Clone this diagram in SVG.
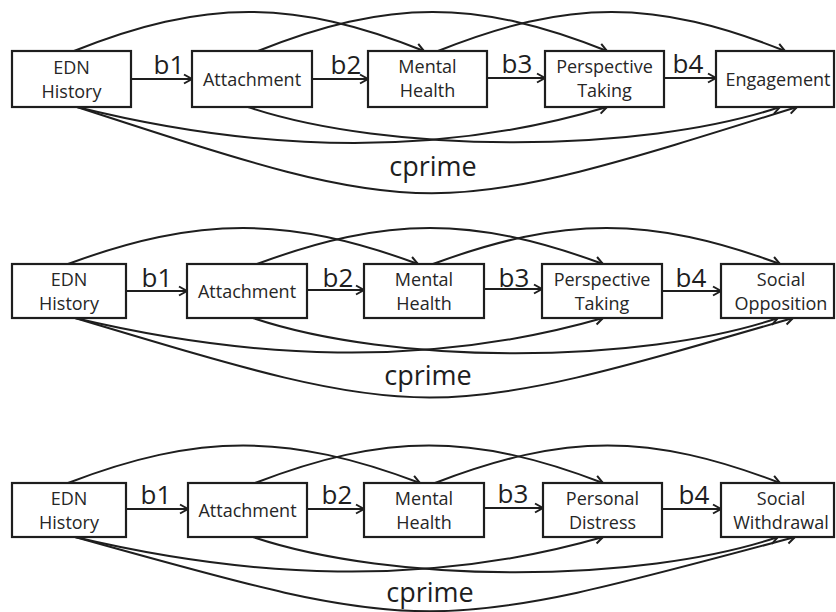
<svg xmlns="http://www.w3.org/2000/svg" width="836" height="612" viewBox="0 0 836 612">
  <defs>
    <marker id="arrow" markerUnits="userSpaceOnUse" markerWidth="12" markerHeight="12" refX="9" refY="5" orient="auto" overflow="visible">
      <path d="M1,0.5 L9,5 L1,9.5" fill="none" stroke="#1e1e1e" stroke-width="2" stroke-linejoin="miter"/>
    </marker>
  </defs>
  <style>
    .box { fill: #ffffff; stroke: #1e1e1e; stroke-width: 2.2; }
    .node { font-family: "Open Sans", "Liberation Sans", sans-serif; font-size: 18px; fill: #262626; text-anchor: middle; }
    .edge { fill: none; stroke: #1e1e1e; stroke-width: 2; marker-end: url(#arrow); }
    .coef { font-family: "Open Sans", "Liberation Sans", sans-serif; font-size: 26px; fill: #1e1e1e; text-anchor: middle; }
    .cp { font-family: "Open Sans", "Liberation Sans", sans-serif; font-size: 27px; fill: #1e1e1e; text-anchor: middle; }
  </style>
  <rect width="836" height="612" fill="#ffffff"/>

  <!-- connectors: model 1 (Engagement) -->
  <g id="connectors-1">
    <path class="edge" d="M74,51 C204,-1 294,-1 424,51"/>
    <path class="edge" d="M258,51 C388,-1 477,-1 607,51"/>
    <path class="edge" d="M438,51 C568,-1 655,-1 785,51"/>
    <path class="edge" d="M77,107 C250,150 430,160 607,107"/>
    <path class="edge" d="M248,107 C388,154 640,154 780,107"/>
    <path class="edge" d="M77,107 C430,222 430,222 797,107"/>
    <path class="edge" d="M131,79 H192"/>
    <path class="edge" d="M312,79 H368"/>
    <path class="edge" d="M487,78 H545"/>
    <path class="edge" d="M664,78 H716"/>
  </g>

  <!-- connectors: model 2 (Social Opposition) -->
  <g id="connectors-2">
    <path class="edge" d="M68,264 C198,216 288,216 418,264"/>
    <path class="edge" d="M257,264 C387,216 473,216 603,264"/>
    <path class="edge" d="M433,264 C563,216 650,216 780,264"/>
    <path class="edge" d="M75,318 C248,359 426,369 603,318"/>
    <path class="edge" d="M253,318 C393,365 638,365 778,318"/>
    <path class="edge" d="M75,318 C428,424 428,424 793,318"/>
    <path class="edge" d="M126,291 H187"/>
    <path class="edge" d="M307,290 H364"/>
    <path class="edge" d="M484,289 H542"/>
    <path class="edge" d="M662,291 H721"/>
  </g>

  <!-- connectors: model 3 (Social Withdrawal) -->
  <g id="connectors-3">
    <path class="edge" d="M68,483 C198,433 288,433 420,483"/>
    <path class="edge" d="M255,483 C385,433 473,433 603,483"/>
    <path class="edge" d="M435,483 C565,433 650,433 780,483"/>
    <path class="edge" d="M75,537 C248,578 426,588 603,537"/>
    <path class="edge" d="M253,537 C393,584 638,584 778,537"/>
    <path class="edge" d="M75,537 C428,636 428,636 795,537"/>
    <path class="edge" d="M126,509 H188"/>
    <path class="edge" d="M307,509 H364"/>
    <path class="edge" d="M484,508 H543"/>
    <path class="edge" d="M662,509 H721"/>
  </g>

  <!-- path coefficient labels -->
  <g id="labels">
    <text class="coef" x="169" y="74">b1</text>
    <text class="coef" x="346" y="74">b2</text>
    <text class="coef" x="517" y="73">b3</text>
    <text class="coef" x="688" y="73">b4</text>
    <text class="cp" x="433" y="176">cprime</text>

    <text class="coef" x="157" y="287">b1</text>
    <text class="coef" x="338" y="287">b2</text>
    <text class="coef" x="514" y="287">b3</text>
    <text class="coef" x="691" y="287">b4</text>
    <text class="cp" x="428" y="385">cprime</text>

    <text class="coef" x="156" y="504">b1</text>
    <text class="coef" x="337" y="504">b2</text>
    <text class="coef" x="513" y="503">b3</text>
    <text class="coef" x="694" y="504">b4</text>
    <text class="cp" x="430" y="602">cprime</text>
  </g>

  <!-- model 1 nodes -->
  <g id="m1-edn-history">
    <rect class="box" x="12" y="51" width="119" height="56"/>
    <text class="node" x="71.5" y="74">EDN</text>
    <text class="node" x="71.5" y="98">History</text>
  </g>
  <g id="m1-attachment">
    <rect class="box" x="192" y="51" width="120" height="56"/>
    <text class="node" x="252" y="86">Attachment</text>
  </g>
  <g id="m1-mental-health">
    <rect class="box" x="368" y="51" width="119" height="56"/>
    <text class="node" x="427.5" y="73">Mental</text>
    <text class="node" x="427.5" y="97">Health</text>
  </g>
  <g id="m1-perspective-taking">
    <rect class="box" x="545" y="51" width="119" height="56"/>
    <text class="node" x="604.5" y="73">Perspective</text>
    <text class="node" x="604.5" y="97">Taking</text>
  </g>
  <g id="m1-engagement">
    <rect class="box" x="716" y="51" width="118" height="56"/>
    <text class="node" x="778" y="86">Engagement</text>
  </g>

  <!-- model 2 nodes -->
  <g id="m2-edn-history">
    <rect class="box" x="12" y="264" width="114" height="54"/>
    <text class="node" x="69" y="286">EDN</text>
    <text class="node" x="69" y="310">History</text>
  </g>
  <g id="m2-attachment">
    <rect class="box" x="187" y="264" width="120" height="54"/>
    <text class="node" x="247" y="298">Attachment</text>
  </g>
  <g id="m2-mental-health">
    <rect class="box" x="364" y="264" width="120" height="54"/>
    <text class="node" x="424" y="286">Mental</text>
    <text class="node" x="424" y="310">Health</text>
  </g>
  <g id="m2-perspective-taking">
    <rect class="box" x="542" y="264" width="120" height="54"/>
    <text class="node" x="602" y="286">Perspective</text>
    <text class="node" x="602" y="310">Taking</text>
  </g>
  <g id="m2-social-opposition">
    <rect class="box" x="721" y="264" width="113" height="54"/>
    <text class="node" x="781" y="286">Social</text>
    <text class="node" x="781" y="310">Opposition</text>
  </g>

  <!-- model 3 nodes -->
  <g id="m3-edn-history">
    <rect class="box" x="12" y="483" width="114" height="54"/>
    <text class="node" x="69" y="505">EDN</text>
    <text class="node" x="69" y="529">History</text>
  </g>
  <g id="m3-attachment">
    <rect class="box" x="188" y="483" width="119" height="54"/>
    <text class="node" x="247.5" y="517">Attachment</text>
  </g>
  <g id="m3-mental-health">
    <rect class="box" x="364" y="483" width="120" height="54"/>
    <text class="node" x="424" y="505">Mental</text>
    <text class="node" x="424" y="529">Health</text>
  </g>
  <g id="m3-personal-distress">
    <rect class="box" x="543" y="483" width="119" height="54"/>
    <text class="node" x="602.5" y="505">Personal</text>
    <text class="node" x="602.5" y="529">Distress</text>
  </g>
  <g id="m3-social-withdrawal">
    <rect class="box" x="721" y="483" width="113" height="54"/>
    <text class="node" x="781" y="505">Social</text>
    <text class="node" x="781" y="529">Withdrawal</text>
  </g>
</svg>
